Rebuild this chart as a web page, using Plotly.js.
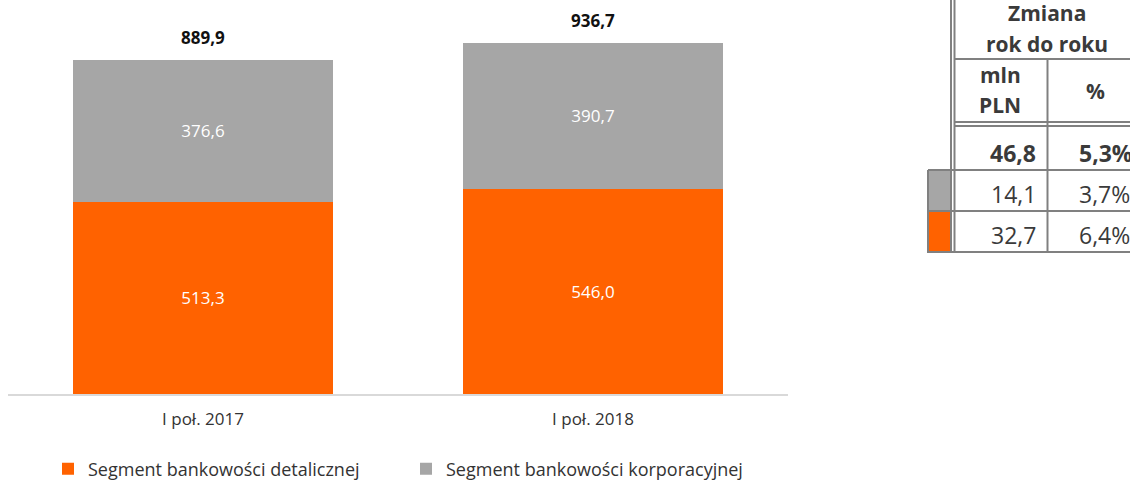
<!DOCTYPE html>
<html>
<head>
<meta charset="utf-8">
<script src="https://cdn.plot.ly/plotly-3.0.1.min.js"></script>
<style>html,body{margin:0;padding:0;background:#fff;}#chart{width:1130px;height:481px;}</style>
</head>
<body>
<div id="chart"></div>
<script>
// ---- data ----
const categories = ['I poł. 2017', 'I poł. 2018'];
const retail = [513.3, 546.0];      // Segment bankowości detalicznej
const corporate = [376.6, 390.7];   // Segment bankowości korporacyjnej
const totals = [889.9, 936.7];
const seriesNames = ['Segment bankowości detalicznej', 'Segment bankowości korporacyjnej'];
// table: change year on year (total, corporate, retail)
const changeMln = [46.8, 14.1, 32.7];
const changePct = [5.3, 3.7, 6.4];
const tableHeader = ['Zmiana', 'rok do roku', 'mln', 'PLN', '%'];

const ORANGE = '#FF6200', GRAY = '#A6A6A6', LINE = '#808080', TXT = '#3a3a3a';
const W = 1130, H = 481, MB = 60;
const PH = H - MB;
const px = x => x / W, py = y => (PH - y) / PH;
const fmt = v => v.toFixed(1).replace('.', ',');
const FONT = 'Open Sans, sans-serif';

const traces = [
  {type: 'bar', x: categories, y: retail, name: seriesNames[0], marker: {color: ORANGE},
   width: 0.668, texttemplate: '%{y:.1f}', textposition: 'inside', insidetextanchor: 'middle',
   textfont: {color: '#ffffff', size: 17, family: FONT}, hoverinfo: 'skip'},
  {type: 'bar', x: categories, y: corporate, name: seriesNames[1], marker: {color: GRAY},
   width: 0.668, texttemplate: '%{y:.1f}', textposition: 'inside', insidetextanchor: 'middle',
   textfont: {color: '#ffffff', size: 17, family: FONT}, hoverinfo: 'skip'}
];

const annotations = [];
categories.forEach((c, i) => annotations.push({
  x: c, y: totals[i], xref: 'x', yref: 'y', text: '<b>' + fmt(totals[i]) + '</b>',
  showarrow: false, yanchor: 'bottom', yshift: 9, font: {size: 17, color: '#111', family: FONT}
}));

// table texts
const hdrFont = {size: 21, color: TXT, family: FONT};
function tAnn(text, x, y, xanchor, font) {
  annotations.push({xref: 'paper', yref: 'paper', x: px(x), y: py(y), text: text, showarrow: false,
    xanchor: xanchor, yanchor: 'middle', font: font});
}
tAnn('<b>' + tableHeader[0] + '</b>', 1047, 13, 'center', hdrFont);
tAnn('<b>' + tableHeader[1] + '</b>', 1047, 44, 'center', hdrFont);
tAnn('<b>' + tableHeader[2] + '</b>', 1000, 75, 'center', hdrFont);
tAnn('<b>' + tableHeader[3] + '</b>', 1000, 105, 'center', hdrFont);
tAnn('<b>' + tableHeader[4] + '</b>', 1095, 91, 'center', hdrFont);
const rowY = [153, 194, 235];
const numFont = {size: 23, color: TXT, family: FONT};
changeMln.forEach((v, i) => {
  const t = fmt(v), p = fmt(changePct[i]) + '%';
  tAnn(i === 0 ? '<b>' + t + '</b>' : t, 1038, rowY[i], 'right', numFont);
  tAnn(i === 0 ? '<b>' + p + '</b>' : p, 1077, rowY[i], 'left', numFont);
});

// table lines
const shapes = [];
function ln(x0, y0, x1, y1, w) {
  shapes.push({type: 'line', xref: 'paper', yref: 'paper', x0: px(x0), y0: py(y0), x1: px(x1), y1: py(y1),
    line: {color: LINE, width: w || 2}});
}
function rect(x0, y0, x1, y1, c) {
  shapes.push({type: 'rect', xref: 'paper', yref: 'paper', x0: px(x0), y0: py(y0), x1: px(x1), y1: py(y1),
    fillcolor: c, line: {width: 0}, layer: 'below'});
}
rect(928, 170, 951, 211, GRAY);
rect(928, 211, 951, 252, ORANGE);
ln(951, 0, 951, 253, 2);
ln(954.5, 0, 954.5, 253, 2);
ln(954.5, 59, 1130, 59);
ln(1047.5, 59, 1047.5, 253);
ln(954.5, 122, 1130, 122);
ln(954.5, 126, 1130, 126);
ln(928, 170, 1130, 170);
ln(928, 211, 1130, 211);
ln(928, 252, 1130, 252);
ln(928, 170, 928, 253);

const layout = {
  width: W, height: H,
  margin: {l: 0, r: 0, t: 0, b: MB},
  paper_bgcolor: '#ffffff', plot_bgcolor: '#ffffff',
  separators: ', ',
  barmode: 'stack',
  font: {family: FONT, color: '#333'},
  xaxis: {domain: [px(8), px(788)], range: [-0.5, 1.5], showline: true, linecolor: '#D9D9D9', linewidth: 2,
    ticks: '', showgrid: false, zeroline: false, tickfont: {size: 17, color: '#333', family: FONT},
    ticklabelstandoff: 9, fixedrange: true, automargin: false},
  yaxis: {domain: [py(394), py(19)], range: [0, 1000], visible: false, showgrid: false, zeroline: false, fixedrange: true},
  showlegend: true,
  legend: {orientation: 'h', xref: 'container', yref: 'container', x: px(48), xanchor: 'left',
    y: (H - 469) / H, yanchor: 'middle', traceorder: 'normal',
    entrywidth: 313, entrywidthmode: 'pixels', font: {size: 18, color: '#333', family: FONT}, bgcolor: 'rgba(0,0,0,0)'},
  annotations: annotations,
  shapes: shapes
};

Plotly.newPlot('chart', traces, layout, {staticPlot: true, displayModeBar: false});
</script>
</body>
</html>
